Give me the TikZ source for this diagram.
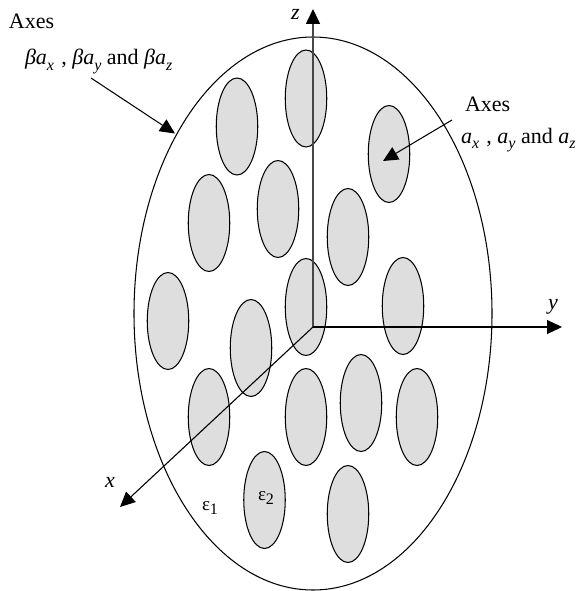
\documentclass[tikz,border=0pt]{standalone}
\usepackage{fontspec}
\setmainfont{Liberation Serif}
\usetikzlibrary{shapes.geometric,arrows.meta}
\newcommand{\sbs}[1]{\raisebox{-0.24em}{\fontsize{16}{16}\selectfont\itshape #1}}
\tikzset{
  grain/.style={ellipse,draw=black,line width=1.05pt,fill=black!13,minimum width=41.5pt,minimum height=97pt,inner sep=0pt,outer sep=0pt},
  outer/.style={ellipse,draw=black,line width=1.05pt,fill=white,minimum width=358pt,minimum height=553pt,inner sep=0pt,outer sep=0pt},
  lbl/.style={inner sep=0pt,outer sep=0pt,anchor=base west,font=\fontsize{22}{24}\selectfont},
  head/.style={-{Triangle[length=15pt,width=14pt,color=black]}},
  axisz/.style={head,line width=1.6pt,draw=black!72},
  axisline/.style={head,line width=1.1pt,draw=black},
  pointer/.style={head,line width=1.05pt,draw=black}
}
\begin{document}
\begin{tikzpicture}[x=1pt,y=-1pt]
\useasboundingbox (0,0) rectangle (577,591);
\node[outer] (big) at (313,313.5) {};
\foreach \n/\a/\b in {g1/237/126.5,g2/306/98.5,g3/389/154,g4/209/223,g5/278/209,g6/348/237,g7/168/321,g8/306/307,g9/403/306,g10/251/348,g11/209/417,g12/306/417,g13/361/403,g14/417/417,g15/264.5/500,g16/348/514}{
  \node[grain] (\n) at (\a,\b) {};
}
\coordinate (o) at (313,327);
\coordinate (zt) at (313,9);
\coordinate (yt) at (562,327);
\coordinate (xt) at (120,507);
\draw[axisz] (o) -- (zt);
\draw[axisline] (o) -- (yt);
\draw[axisline] (o) -- (xt);
\coordinate (p1s) at (91,78);
\coordinate (p1e) at (175,133.5);
\coordinate (p2s) at (452,120);
\coordinate (p2e) at (383,161);
\draw[pointer] (p1s) -- (p1e);
\draw[pointer] (p2s) -- (p2e);
\node[lbl] (t1) at (9,29) {Axes};
\node[lbl] (t2) at (25,65) {\textit{βa}\sbs{x}\,\,, \textit{βa}\sbs{y} and \textit{βa}\sbs{z}};
\node[lbl] (t3) at (465,112) {Axes};
\node[lbl] (t4) at (461,143) {\textit{a}\sbs{x}\,\,, \textit{a}\sbs{y} and \textit{a}\sbs{z}};
\node[lbl] (lz) at (291,20) {\textit{z}};
\node[lbl] (ly) at (548,309) {\textit{y}};
\node[lbl] (lx) at (105,487) {\textit{x}};
\node[lbl,font=\fontsize{19}{20}\selectfont] (e1) at (202,510) {ε\raisebox{-0.25em}{\fontsize{16}{16}\selectfont 1}};
\node[lbl,font=\fontsize{19}{20}\selectfont] (e2) at (258,500) {ε\raisebox{-0.25em}{\fontsize{16}{16}\selectfont 2}};
\end{tikzpicture}
\end{document}
